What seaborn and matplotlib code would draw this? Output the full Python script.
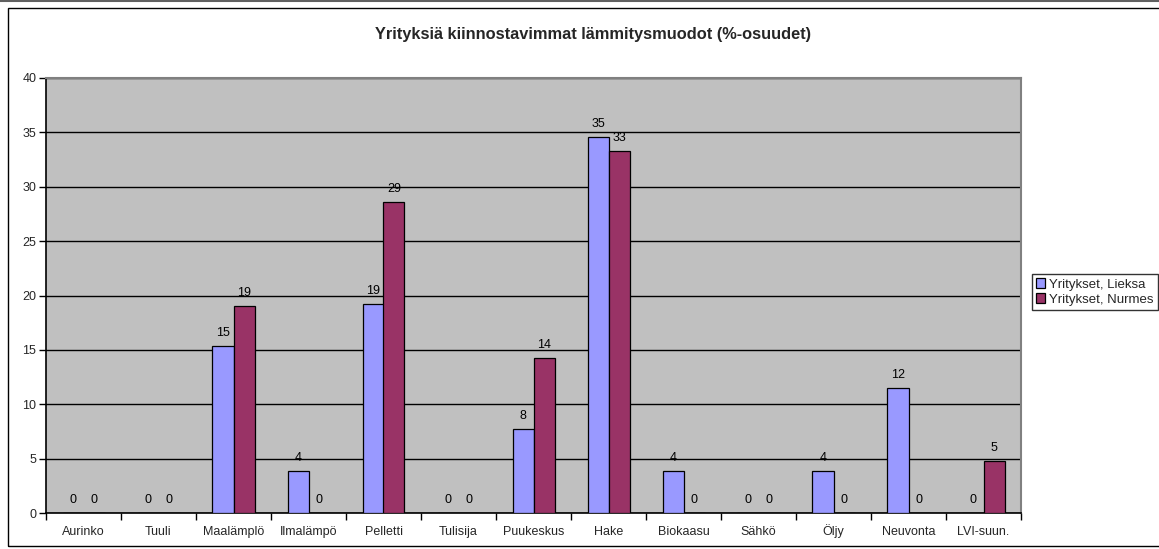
import numpy as np
import pandas as pd
import matplotlib
matplotlib.use("Agg")
import matplotlib.pyplot as plt
from matplotlib.patches import Rectangle
from matplotlib.lines import Line2D
import seaborn as sns

categories = ["Aurinko", "Tuuli", "Maalämplö", "Ilmalämpö", "Pelletti", "Tulisija",
              "Puukeskus", "Hake", "Biokaasu", "Sähkö", "Öljy", "Neuvonta", "LVI-suun."]
lieksa = [0, 0, 15.38, 3.85, 19.23, 0, 7.69, 34.62, 3.85, 0, 3.85, 11.54, 0]
nurmes = [0, 0, 19.05, 0, 28.57, 0, 14.29, 33.33, 0, 0, 0, 0, 4.76]
series_names = ["Yritykset, Lieksa", "Yritykset, Nurmes"]
yticks = [0, 5, 10, 15, 20, 25, 30, 35, 40]
title = "Yrityksiä kiinnostavimmat lämmitysmuodot (%-osuudet)"

df = pd.DataFrame({
    "cat": categories * 2,
    "val": lieksa + nurmes,
    "series": [series_names[0]] * len(categories) + [series_names[1]] * len(categories),
})

sns.set_theme(style="white")
plt.rcParams["font.family"] = ["Liberation Sans", "DejaVu Sans"]

W, H = 1159, 549
fig = plt.figure(figsize=(W / 100, H / 100), dpi=100)
left, right, top, bottom = 46, 1021, 78, 513
ax = fig.add_axes([left / W, 1 - bottom / H, (right - left) / W, (bottom - top) / H])

palette = {series_names[0]: "#9999FF", series_names[1]: "#993366"}
sns.barplot(data=df, x="cat", y="val", hue="series", palette=palette, ax=ax,
            width=0.56, gap=0, edgecolor="black", linewidth=0.9, saturation=1,
            errorbar=None, legend=True, zorder=3)

ax.set_facecolor("#C0C0C0")
ax.set_ylim(0, 40)
ax.set_xlim(-0.5, len(categories) - 0.5)
ax.set_yticks(yticks)
ax.set_yticklabels([str(t) for t in yticks], fontsize=9)
ax.yaxis.grid(True, color="black", linewidth=1)
ax.set_axisbelow(True)
ax.set_xlabel("")
ax.set_ylabel("")

# category boundary ticks, labels on minor ticks
ax.set_xticks(np.arange(-0.5, len(categories), 1.0))
ax.set_xticklabels([])
ax.set_xticks(np.arange(len(categories)), minor=True)
ax.set_xticklabels(categories, minor=True, fontsize=9)
ax.tick_params(axis="x", which="major", direction="out", length=5, width=1, color="black", bottom=True)
ax.tick_params(axis="x", which="minor", length=0, pad=16)
for lbl in ax.get_xticklabels(minor=True):
    lbl.set_verticalalignment("baseline")
ax.tick_params(axis="y", direction="out", length=5, width=1, color="black", left=True, pad=2)

for s in ["left", "bottom"]:
    ax.spines[s].set_color("black")
    ax.spines[s].set_linewidth(1.2)
for s in ["top", "right"]:
    ax.spines[s].set_color("#808080")
    ax.spines[s].set_linewidth(1.5)

for cont in ax.containers:
    ax.bar_label(cont, fmt="%.0f", padding=5, fontsize=9, color="black")

handles, labels = ax.get_legend_handles_labels()
ax.legend_.remove()
leg = fig.legend(handles, labels, loc="center left",
                 bbox_to_anchor=(1032 / W, 1 - 292 / H), fontsize=9.5,
                 frameon=True, fancybox=False, edgecolor="black",
                 handlelength=0.7, handleheight=0.7, handletextpad=0.3,
                 borderpad=0.3, labelspacing=0.2, borderaxespad=0)
leg.get_frame().set_linewidth(1)

fig.text(593 / W, 1 - 34 / H, title, ha="center", va="center",
         fontsize=11.8, fontweight="bold")

# outer chart border
fig.add_artist(Rectangle((8 / W, 1 - 546 / H), (W + 20) / W, (546 - 8) / H,
                         transform=fig.transFigure, fill=False,
                         edgecolor="black", linewidth=1, clip_on=False))
fig.add_artist(Line2D([0, 1], [1 - 1 / H, 1 - 1 / H], transform=fig.transFigure,
                      color="#606060", linewidth=1.5))

fig.savefig("out.png", dpi=100, facecolor="white")
